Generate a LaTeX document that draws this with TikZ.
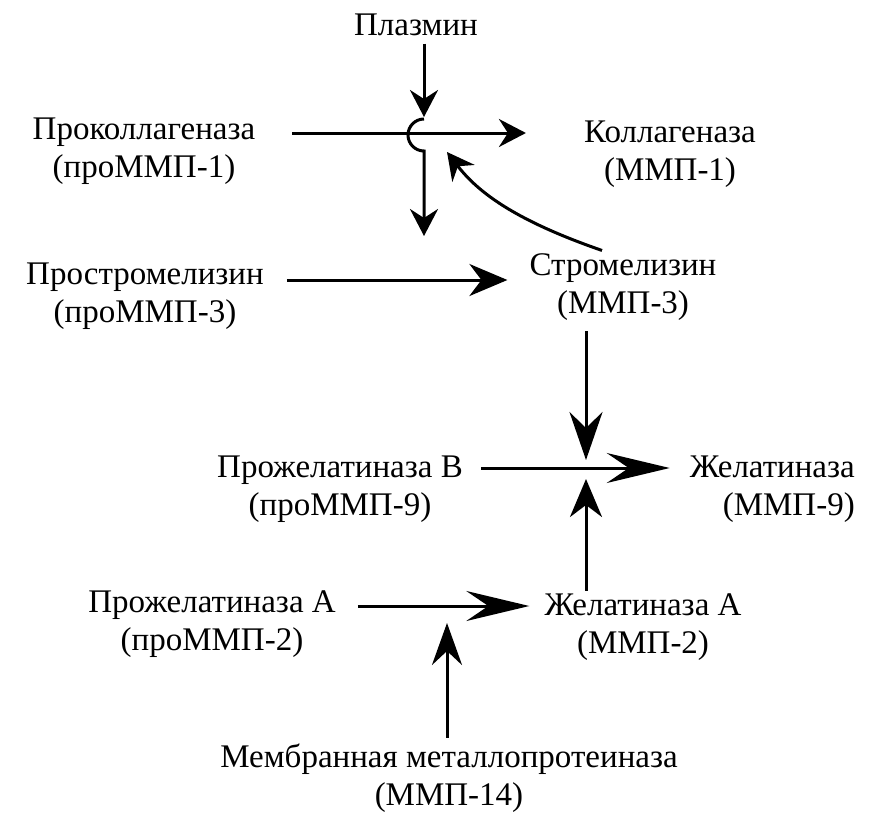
\documentclass[tikz,border=0pt]{standalone}
\usepackage{fontspec}
\setmainfont{Liberation Serif}
\usetikzlibrary{arrows.meta,calc}
\begin{document}
\begin{tikzpicture}[x=1pt,y=-1pt,
  lbl/.style={inner sep=0pt, align=center, font=\fontsize{33}{37.5}\selectfont},
  conn/.style={line width=3pt},
  arrS/.style={conn,-{Stealth[length=27pt,width=28pt,inset=9pt]}},
  arrP/.style={conn,-{Stealth[length=38pt,width=32pt,inset=12pt]}},
  arrD/.style={conn,-{Stealth[length=48pt,width=33pt,inset=16pt]}},
  arrU/.style={conn,-{Stealth[length=38pt,width=32pt,inset=12pt]}},
  arrLong/.style={conn,-{Stealth[length=63pt,width=30pt,inset=22pt]}},
  arrM/.style={conn,-{Stealth[length=42pt,width=30pt,inset=14pt]}}
]
\useasboundingbox (0,0) rectangle (884,822);

% anchor=base of a two-line node is the baseline of its last line
\node[lbl,anchor=base] (plasmin) at (416,35) {Плазмин};
\node[lbl,anchor=base] (procol) at (144,177) {Проколлагеназа\\(проММП-1)};
\node[lbl,anchor=base] (col) at (670,180) {Коллагеназа\\(ММП-1)};
\node[lbl,anchor=base] (prostrom) at (145,322) {Простромелизин\\(проММП-3)};
\node[lbl,anchor=base] (strom) at (623,313) {Стромелизин\\(ММП-3)};
\node[lbl,anchor=base] (progelB) at (340,515) {Прожелатиназа В\\(проММП-9)};
\node[lbl,anchor=base east,align=right] (gelB) at (855,515) {Желатиназа\\(ММП-9)};
\node[lbl,anchor=base] (progelA) at (212,650) {Прожелатиназа А\\(проММП-2)};
\node[lbl,anchor=base] (gelA) at (643,653) {Желатиназа А\\(ММП-2)};
\node[lbl,anchor=base] (mem) at (449,805) {Мембранная металлопротеиназа\\(ММП-14)};

\coordinate (hub) at (424,133);
\coordinate (junB) at (586,468);
\coordinate (junA) at (447,606);

% top: plasmin, procollagenase -> collagenase
\draw[arrS] ($(plasmin.south -| hub)+(0,8)$) -- ($(hub)+(0,-16)$);
\draw[arrS] ($(procol.east |- hub)+(37,0)$) -- ($(col.west |- hub)+(-58,0)$);
\draw[arrS] ($(hub)+(0,-14)$) arc[start angle=90,end angle=270,radius=16pt] -- ++(0,85);
\draw[arrS] ($(strom.north)+(-21,-3)$) .. controls (520,222) and (480,195) .. ($(hub)+(23,19)$);

% prostromelysin -> stromelysin
\coordinate (p3) at ($(prostrom.base east)+(23,-42)$);
\draw[arrP] (p3) -- ($(strom.west |- p3)+(-22,0)$);

% stromelysin -> junction B
\draw[arrD] ($(strom.south -| junB)+(0,11)$) -- ($(junB)+(0,-8)$);

% progelatinase B -> gelatinase
\draw[arrLong] ($(progelB.east |- junB)+(18,0)$) -- ($(gelB.west |- junB)+(-20,0)$);

% gelatinase A -> junction B
\draw[arrU] ($(gelA.north -| junB)+(0,-3)$) -- ($(junB)+(0,11)$);

% progelatinase A -> gelatinase A
\draw[arrLong] ($(progelA.east |- junA)+(22,0)$) -- ($(gelA.west |- junA)+(-15,0)$);

% membrane MMP -> junction A
\draw[arrM] ($(mem.north -| junA)+(0,-6)$) -- ($(junA)+(0,17)$);
\end{tikzpicture}
\end{document}
